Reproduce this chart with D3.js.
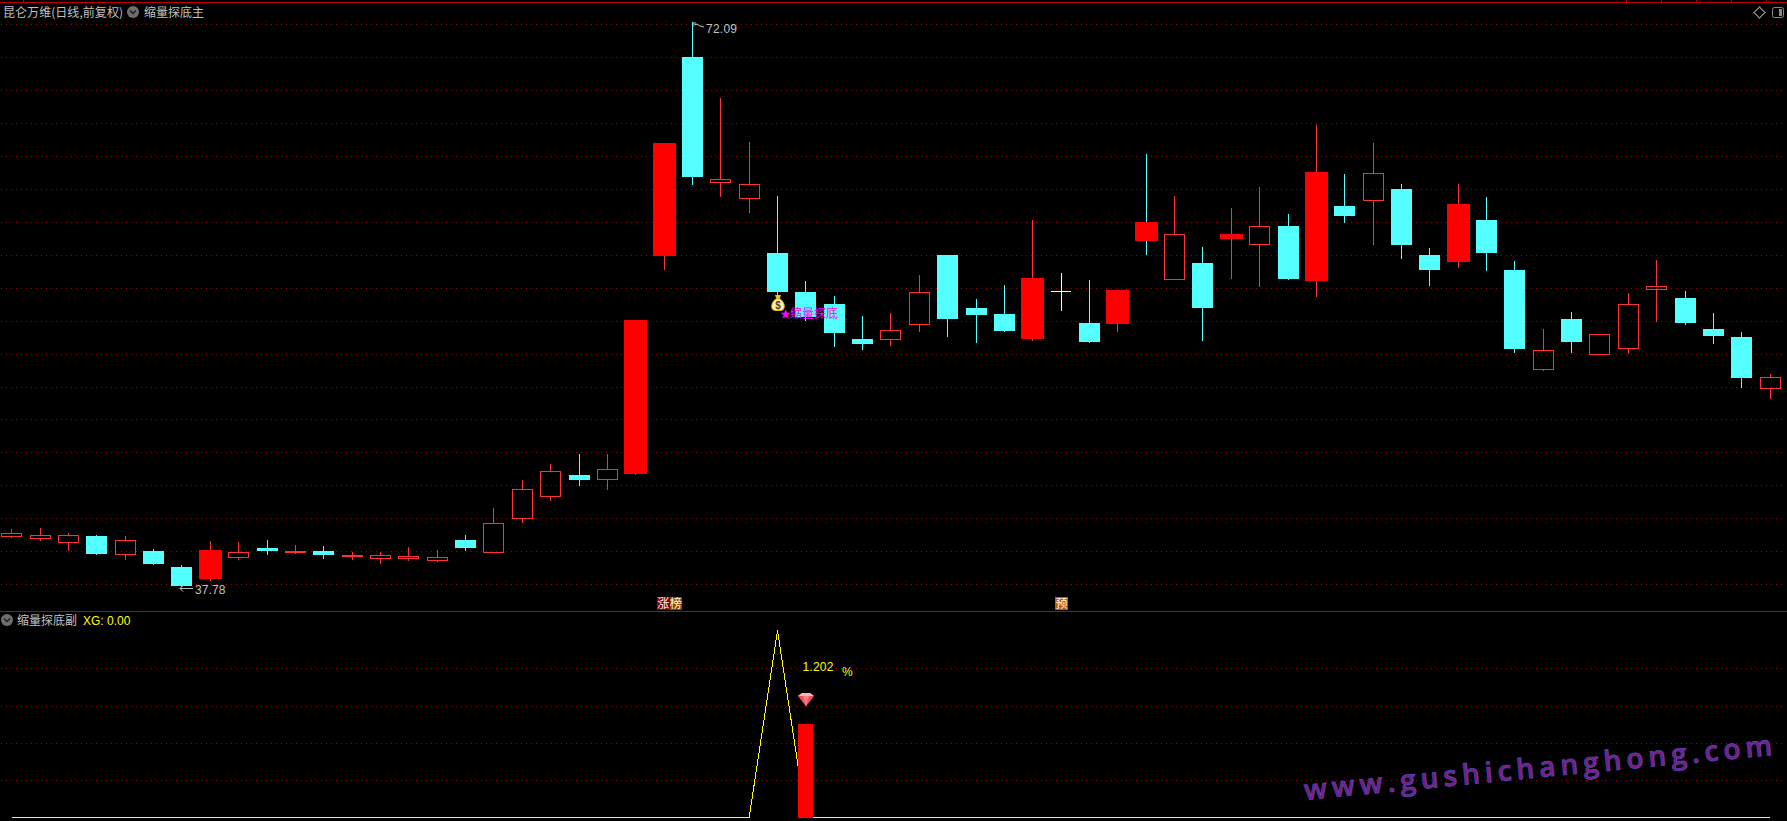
<!DOCTYPE html>
<html lang="zh">
<head>
<meta charset="utf-8">
<title>昆仑万维</title>
<script src="https://cdn.jsdelivr.net/npm/d3@7/dist/d3.min.js"></script>
<style>
html,body{margin:0;padding:0;background:#000;overflow:hidden}
svg{display:block}
</style>
</head>
<body>
<svg id="chart"></svg>
<script>
const opens  = [40.84,40.72,40.47,40.82,39.74,39.91,38.93,38.20,39.56,40.09,39.87,39.91,39.62,39.50,39.48,39.38,40.58,39.87,41.92,43.27,44.53,44.31,44.59,57.85,69.96,62.37,61.40,58.04,55.66,54.93,52.81,52.82,53.74,57.92,54.69,54.33,52.81,55.71,53.78,53.72,59.92,56.47,57.43,58.89,58.60,59.68,56.33,60.90,61.28,61.93,57.92,57.49,60.04,57.00,51.00,54.02,51.91,52.28,55.87,55.30,53.41,52.93,49.84];
const closes = [41.00,40.88,40.88,39.73,40.58,39.12,37.78,39.97,39.85,39.91,39.91,39.66,39.66,39.66,39.60,39.54,40.09,41.61,43.68,44.78,44.23,44.90,53.96,64.73,62.66,62.54,62.23,55.66,54.14,53.17,52.50,53.35,55.66,54.02,54.27,53.29,56.52,55.71,52.62,55.79,58.77,59.19,54.69,59.19,59.68,56.46,62.96,60.29,62.90,58.52,57.00,61.02,58.04,52.20,52.14,52.62,53.11,54.93,56.03,53.78,52.99,50.43,50.49];
const highs  = [41.25,41.31,41.00,40.88,40.82,40.03,39.06,40.52,40.45,40.58,40.27,40.21,39.87,39.87,40.15,39.97,40.88,42.52,44.23,45.20,45.81,45.81,53.96,64.73,72.09,67.47,64.79,61.50,56.33,55.42,54.21,54.39,56.70,57.92,55.24,56.09,60.04,56.82,56.40,55.79,64.06,61.50,58.40,60.77,62.05,60.41,65.82,62.84,64.73,62.23,58.34,62.23,61.44,57.55,53.41,54.45,53.11,55.60,57.61,55.73,54.39,53.23,50.68];
const lows   = [40.78,40.58,39.97,39.73,39.42,39.12,37.78,38.14,39.42,39.73,39.80,39.48,39.42,39.18,39.38,39.30,39.97,39.87,41.67,43.01,43.92,43.68,44.59,57.06,62.23,61.50,60.53,55.48,53.96,52.38,52.20,52.44,53.29,52.99,52.62,53.29,52.74,54.57,52.62,53.29,57.98,56.47,52.74,56.52,56.03,56.46,55.42,59.92,58.58,57.73,56.09,57.19,57.00,52.02,50.92,52.02,51.91,51.95,53.90,53.72,52.56,49.89,49.22];
const paintedRed = [7,22,23,36,39,40,43,46,51];
const dojiCross = [37];
const priceGrid = [71.97,69.96,67.95,65.95,63.94,61.93,59.92,57.92,55.91,53.90,51.89,49.89,47.94,45.93,43.92,41.92,39.91,37.90];
const subGrid = [1.906,1.42,0.946,0.473];
const xgValues = opens.map(() => 0);
xgValues[27] = 2.38;
const volumeBarIndex = 28;
const volumeBarValue = 1.202;
const titleMain = "昆仑万维(日线,前复权)";
const indicatorMain = "缩量探底主";
const indicatorSub = "缩量探底副";
const xgLabel = "XG: 0.00";
const maxLabel = "72.09";
const minLabel = "37.78";
const signalLabel = "缩量探底";
const watermark = "www.gushichanghong.com";

const W = 1787, H = 821;
const svg = d3.select("#chart").attr("width", W).attr("height", H).style("background", "#000");
const CJK = "'Noto Sans CJK SC','Noto Sans',sans-serif";
const LAT = "'Liberation Sans',Arial,sans-serif";
const GRAY = "#c0c0c0", RED = "#ff3232", CYAN = "#54ffff", YELLOW = "#ffff00";

const x = d3.scaleLinear().domain([0, opens.length - 1]).range([11.8, 1770.12]);
const y = d3.scaleLinear().domain([37.78, 72.09]).range([586, 22]);
const ySub = d3.scaleLinear().domain([0, 2.38]).range([818, 631]);
const cx = i => Math.floor(x(i));
const py = v => Math.round(y(v));
const sy = v => Math.floor(ySub(v)) + 0.5;

// grids
const grid = svg.append("g").attr("stroke", "#a00000").attr("stroke-dasharray", "1 4")
  .attr("shape-rendering", "crispEdges");
grid.selectAll("line.m").data(priceGrid).join("line").attr("class", "m")
  .attr("x1", 1).attr("x2", W - 1)
  .attr("y1", d => py(d) + 0.5).attr("y2", d => py(d) + 0.5);
grid.selectAll("line.s").data(subGrid).join("line").attr("class", "s")
  .attr("x1", 1).attr("x2", W - 1)
  .attr("y1", sy).attr("y2", sy);

// frame lines
const frame = svg.append("g").attr("stroke", "#c00000").attr("shape-rendering", "crispEdges");
frame.append("line").attr("x1", 0).attr("x2", W).attr("y1", 2.5).attr("y2", 2.5);
frame.append("line").attr("x1", 0).attr("x2", W).attr("y1", 611.5).attr("y2", 611.5);
frame.selectAll("line.t").data([23, 1626, 1661, 1696, 1731, 1766]).join("line").attr("class", "t")
  .attr("x1", d => d + 0.5).attr("x2", d => d + 0.5).attr("y1", 0).attr("y2", 2);

// candles
const idx = d3.range(opens.length);
const up = i => closes[i] >= opens[i];
const candleGroup = svg.append("g").attr("shape-rendering", "crispEdges");
const c = candleGroup.selectAll("g").data(idx).join("g");
const wickColor = i => dojiCross.includes(i) ? "#ffffff" : up(i) ? RED : CYAN;
const bTop = i => py(Math.max(opens[i], closes[i]));
const bBot = i => py(Math.min(opens[i], closes[i]));
c.append("line").attr("x1", i => cx(i) + 0.5).attr("x2", i => cx(i) + 0.5)
  .attr("y1", i => py(highs[i])).attr("y2", i => bTop(i) + 1).attr("stroke", wickColor);
c.append("line").attr("x1", i => cx(i) + 0.5).attr("x2", i => cx(i) + 0.5)
  .attr("y1", i => bBot(i)).attr("y2", i => py(lows[i]) + 1).attr("stroke", wickColor);
c.filter(i => !dojiCross.includes(i)).append("rect")
  .each(function (i) {
    const s = d3.select(this);
    const h = bBot(i) - bTop(i);
    if (paintedRed.includes(i)) {
      s.attr("x", cx(i) - 11).attr("y", bTop(i)).attr("width", 23).attr("height", Math.max(h, 1)).attr("fill", "#ff0000");
    } else if (up(i)) {
      s.attr("x", cx(i) - 10 + 0.5).attr("y", bTop(i) + 0.5).attr("width", 20).attr("height", Math.max(h, 1))
        .attr("fill", "none").attr("stroke", RED);
    } else {
      s.attr("x", cx(i) - 10).attr("y", bTop(i)).attr("width", 21).attr("height", Math.max(h, 1)).attr("fill", CYAN);
    }
  });
c.filter(i => dojiCross.includes(i)).append("line")
  .attr("x1", i => cx(i) - 10).attr("x2", i => cx(i) + 10)
  .attr("y1", i => py(opens[i]) + 0.5).attr("y2", i => py(opens[i]) + 0.5)
  .attr("stroke", "#ffffff");

// helper for text
function label(str, px, pyy, o = {}) {
  return svg.append("text").attr("x", px).attr("y", pyy).text(str)
    .attr("font-family", o.font || CJK).attr("font-size", o.size || 12)
    .attr("fill", o.fill || GRAY)
    .attr("text-anchor", o.anchor || "start");
}
function chevron(ccx, ccy) {
  svg.append("circle").attr("cx", ccx).attr("cy", ccy).attr("r", 6).attr("fill", "#6e6e6e");
  svg.append("path").attr("d", `M${ccx - 3},${ccy - 1.5}L${ccx},${ccy + 1.5}L${ccx + 3},${ccy - 1.5}`)
    .attr("fill", "none").attr("stroke", "#1c1c1c").attr("stroke-width", 1.4);
}

// header
label(titleMain, 3, 17).attr("textLength", 120).attr("lengthAdjust", "spacing");
chevron(133, 12);
label(indicatorMain, 144, 17);
chevron(7, 620);
label(indicatorSub, 17, 625);
label(xgLabel, 83, 625, { font: LAT, fill: YELLOW, size: 12 });

// right icons
svg.append("path").attr("d", "M1759.5,7L1765,12.5L1759.5,18L1754,12.5Z")
  .attr("fill", "none").attr("stroke", "#777").attr("shape-rendering", "crispEdges");
svg.append("rect").attr("x", 1772.5).attr("y", 7.5).attr("width", 11).attr("height", 10).attr("rx", 2)
  .attr("fill", "none").attr("stroke", "#8a8a8a");
svg.append("rect").attr("x", 1779).attr("y", 9).attr("width", 3).attr("height", 7).attr("fill", "#8a8a8a");

// max / min annotations
const anno = svg.append("g").attr("fill", "none").attr("stroke", GRAY);
anno.append("path").attr("d", `M${cx(24) + 1},${py(72.09) + 5}V${py(72.09) + 1}H${cx(24) + 4}M${cx(24) + 2},${py(72.09) + 3}l3,-1 3,2 4,1`);
anno.append("path").attr("d", `M${cx(6) - 1},${y(37.78) + 2.5}h13M${cx(6) - 1},${y(37.78) + 2.5}l3,-3M${cx(6) - 1},${y(37.78) + 2.5}l3,3`);
label(maxLabel, 706, 33, { font: LAT }).attr("letter-spacing", 0.25);
label(minLabel, 195, 594, { font: LAT }).attr("letter-spacing", 0.1);

// bottom tags
const tagY = 597, tagH = 13;
const tags = [
  { s: "涨", x: 657, w: 12.5, bg: "#8b0000" },
  { s: "榜", x: 669.5, w: 12.5, bg: "#8b4500" },
  { s: "预", x: 1055, w: 13, bg: "#b85a10" }
];
const tagG = svg.append("g").selectAll("g").data(tags).join("g");
tagG.append("rect").attr("x", d => d.x).attr("y", tagY).attr("width", d => d.w).attr("height", tagH)
  .attr("fill", d => d.bg).attr("shape-rendering", "crispEdges");
tagG.append("text").attr("x", d => d.x + d.w / 2).attr("y", tagY + 11).attr("text-anchor", "middle")
  .attr("font-family", CJK).attr("font-size", 12).attr("fill", "#fff0e0").text(d => d.s);

// money bag + signal
const bagX = cx(27) + 1, bagY = 295;
const bag = svg.append("g");
bag.append("path").attr("d", `M${bagX - 3},${bagY}h6l-1.5,4h-3Z`).attr("fill", "#f5c800");
bag.append("path")
  .attr("d", `M${bagX - 2},${bagY + 4}h4C${bagX + 7},${bagY + 7} ${bagX + 8},${bagY + 15} ${bagX + 3},${bagY + 15.5}h-6C${bagX - 8},${bagY + 15} ${bagX - 7},${bagY + 7} ${bagX - 2},${bagY + 4}Z`)
  .attr("fill", "#fff3b0").attr("stroke", "#e8b400");
bag.append("text").attr("x", bagX).attr("y", bagY + 14).attr("text-anchor", "middle")
  .attr("font-family", LAT).attr("font-weight", "bold").attr("font-size", 10).attr("fill", "#6b3a1a").text("$");
label("★", 780, 318, { size: 11, fill: "#ff00ff" });
label(signalLabel, 790, 318, { fill: "#ff00ff" });

// sub pane: XG line, bar, gem, labels
const xgLine = d3.line().x((d, i) => x(i)).y(d => Math.floor(ySub(d) - 0.5) + 0.5);
svg.append("path").datum(xgValues).attr("d", xgLine)
  .attr("fill", "none").attr("stroke", YELLOW).attr("stroke-width", 1).attr("shape-rendering", "crispEdges");
svg.append("rect")
  .attr("x", cx(volumeBarIndex) - 7).attr("width", 15)
  .attr("y", Math.round(ySub(volumeBarValue))).attr("height", 818 - Math.round(ySub(volumeBarValue)))
  .attr("fill", "#ff0000").attr("shape-rendering", "crispEdges");
label(String(volumeBarValue), 802.5, 671, { font: LAT, fill: YELLOW }).attr("letter-spacing", 0.2);
label("%", 842, 676, { font: LAT, fill: YELLOW, size: 12 });

const gX = cx(volumeBarIndex) + 1, gY = 693;
const gem = svg.append("g");
gem.append("path").attr("d", `M${gX - 8},${gY + 3}L${gX - 4},${gY}H${gX + 4}L${gX + 8},${gY + 3}L${gX},${gY + 13.5}Z`).attr("fill", "#f0505a");
gem.append("path").attr("d", `M${gX - 8},${gY + 3}H${gX + 8}L${gX + 4},${gY}H${gX - 4}Z`).attr("fill", "#ffb0b4");
gem.append("path").attr("d", `M${gX - 3},${gY + 3}H${gX + 3}L${gX},${gY + 13}Z`).attr("fill", "#ff8088");

// watermark
svg.append("text").attr("transform", "translate(1305,800) rotate(-5.5)")
  .attr("font-family", "'Open Sans','Noto Sans',sans-serif").attr("font-size", 28).attr("font-weight", 600)
  .attr("textLength", 470).attr("lengthAdjust", "spacing")
  .attr("fill", "#7f1a85").attr("stroke", "#5048b0").attr("stroke-width", 0.8)
  .text(watermark);
</script>
</body>
</html>
